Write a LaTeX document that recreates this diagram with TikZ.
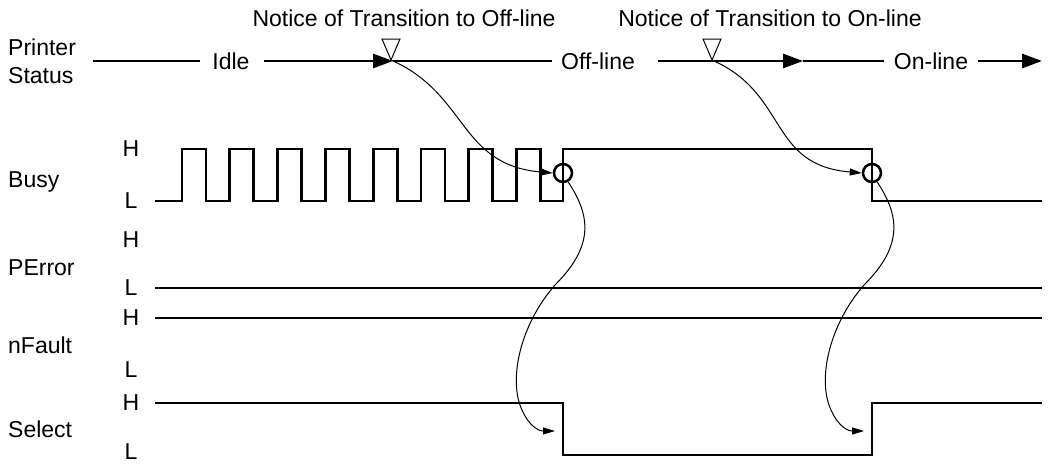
\documentclass[tikz,border=0pt]{standalone}
\usepackage{fontspec}
\setmainfont{Liberation Sans}
\usetikzlibrary{arrows.meta}
\begin{document}
\begin{tikzpicture}[x=1pt,y=-1pt,
  every node/.style={font=\fontsize{23}{28}\selectfont, inner sep=0pt},
  sig/.style={line width=2.8pt, line join=miter},
  stat/.style={line width=2.8pt},
  midarrow/.style={-{Triangle[length=20pt,width=14pt]}},
  conn/.style={line width=1pt, -{Triangle[length=12pt,width=7pt]}},
  circ/.style={circle, draw, line width=2.5pt, minimum size=18pt, inner sep=0pt},
  tri/.style={line width=1pt, line join=miter}
]
\useasboundingbox (0,0) rectangle (1056,463);

% signal names
\node[anchor=west, align=left] (ps) at (8,61) {Printer\\Status};
\node[anchor=base west] (busy) at (8,187) {Busy};
\node[anchor=base west] (perror) at (8,275) {PError};
\node[anchor=base west] (nfault) at (8,353) {nFault};
\node[anchor=base west] (select) at (8,437) {Select};

% level labels
\node (bh) at (131,149) {H};
\node (bl) at (131,201) {L};
\node (ph) at (131,240) {H};
\node (pl) at (131,288) {L};
\node (fh) at (131,318) {H};
\node (fl) at (131,370) {L};
\node (sh) at (131,403) {H};
\node (sl) at (131,452) {L};

% printer status line
\node (idle) at (231,61) {Idle};
\node (off) at (598,61) {Off-line};
\node (on) at (931,61) {On-line};
\draw[stat] (93,61) -- (200,61);
\draw[stat, midarrow] (264,61) -- (393,61);
\draw[stat] (393,61) -- (552,61);
\draw[stat, midarrow] (658,61) -- (803,61);
\draw[stat] (803,61) -- (884,61);
\draw[stat, midarrow] (978,61) -- (1042,61);

% notices
\node[anchor=base] (not1) at (404,27) {Notice of Transition to Off-line};
\node[anchor=base] (not2) at (770,27) {Notice of Transition to On-line};
\coordinate (n1) at (391,60);
\coordinate (n2) at (712,60);
\draw[tri] (n1) -- ++(-9,-21) -- ++(18,0) -- cycle;
\draw[tri] (n2) -- ++(-9,-21) -- ++(18,0) -- cycle;

% waveforms
\draw[sig] (155,201) -- (182,201) -- (182,149) -- (206,149) -- (206,201)
  -- (229.8,201) -- (229.8,149) -- (253.8,149) -- (253.8,201)
  -- (277.6,201) -- (277.6,149) -- (301.6,149) -- (301.6,201)
  -- (325.4,201) -- (325.4,149) -- (349.4,149) -- (349.4,201)
  -- (373.2,201) -- (373.2,149) -- (397.2,149) -- (397.2,201)
  -- (421,201) -- (421,149) -- (445,149) -- (445,201)
  -- (468.8,201) -- (468.8,149) -- (492.8,149) -- (492.8,201)
  -- (516.6,201) -- (516.6,149) -- (540.6,149) -- (540.6,201)
  -- (563,201) -- (563,149) -- (872,149) -- (872,201) -- (1042,201);
\draw[sig] (155,288) -- (1042,288);
\draw[sig] (155,318) -- (1042,318);
\draw[sig] (155,403) -- (563,403) -- (563,455) -- (872,455) -- (872,403) -- (1042,403);

% circles
\node[circ] (c1) at (563,173) {};
\node[circ] (c2) at (872,173) {};
\coordinate (s1) at (555,431);
\coordinate (s2) at (864,431);

% causal curves
\draw[conn] (n1) .. controls +(77,34) and +(-94,-8) .. (c1.west);
\draw[conn] (n2) .. controls +(77,34) and +(-94,-8) .. (c2.west);
\draw[conn] (c1.-60) .. controls (590,215) and (595,245) .. (555,285)
  .. controls (520,325) and (508,380) .. (522,410)
  .. controls (530,428) and (540,431) .. (s1);
\draw[conn] (c2.-60) .. controls (899,215) and (904,245) .. (864,285)
  .. controls (829,325) and (817,380) .. (831,410)
  .. controls (839,428) and (849,431) .. (s2);
\end{tikzpicture}
\end{document}
